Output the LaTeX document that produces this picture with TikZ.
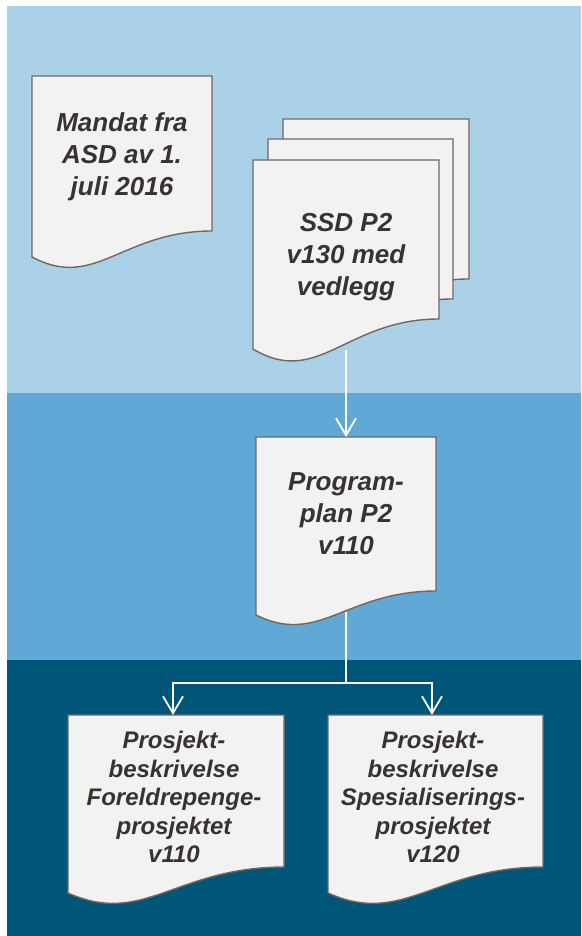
\documentclass[tikz,border=0pt]{standalone}
\usepackage{fontspec}
\setmainfont{Liberation Sans}
\usepackage{xcolor}
\definecolor{Band1}{RGB}{171,209,232}
\definecolor{Band2}{RGB}{96,169,215}
\definecolor{Band3}{RGB}{0,86,121}
\definecolor{DocFill}{RGB}{242,242,242}
\definecolor{DocEdge}{RGB}{112,103,98}
\definecolor{DocInk}{RGB}{56,50,48}
\usepackage{tikz}
\usetikzlibrary{calc}
\usetikzlibrary{arrows.meta}
\tikzstyle{DocBox}=[rectangle,draw=none,inner sep=0pt,outer sep=0pt]
\tikzstyle{DocLine}=[fill=DocFill,draw=DocEdge,line width=1.4pt]
\tikzstyle{DocText}=[anchor=north,align=center,inner sep=0pt,text=DocInk,
font=\bfseries\itshape\fontsize{26}{32}\selectfont]
\tikzstyle{DocTextS}=[DocText,font=\bfseries\itshape\fontsize{24}{28.5}\selectfont]
\tikzstyle{Flow}=[draw=white,line width=1.8pt,
-{Straight Barb[length=17pt,width=20pt]}]
% document sheet: name, top left corner, width, height, drop of the wave
\newcommand{\DocShape}[5]{%
  \node[DocBox,minimum width=#3,minimum height=#4,anchor=north west](#1)at(#2){};
  \draw[DocLine](#1.north west)--(#1.north east)--(#1.south east)
    .. controls (#1.south) and ($(#1.south west)+(0.35*#3,2.3*#5)$)
    .. ($(#1.south west)+(0,#5)$)--cycle;
}

\begin{document}
\begin{tikzpicture}[x=1pt,y=-1pt]
        \useasboundingbox(0,0)rectangle(581,936);
        \fill[Band1](7,6)rectangle(581,393);
        \fill[Band2](7,393)rectangle(581,660);
        \fill[Band3](7,660)rectangle(581,936);
        \DocShape{mandat}{32,76}{180}{155}{26}
        \DocShape{ssdC}{283,119}{186}{160}{30}
        \DocShape{ssdB}{268,139}{185}{160}{30}
        \DocShape{ssd}{253,160}{186}{159}{30}
        \DocShape{plan}{256,437}{180}{154}{24}
        \DocShape{fp}{68,715}{216}{152}{26}
        \DocShape{sp}{328,715}{215}{152}{26}
        \node[DocText](mandatT)at(122,112){Mandat fra\\ASD av 1.\\juli 2016};
        \node[DocText](ssdT)at(346,213){SSD P2\\v130 med\\vedlegg};
        \node[DocText](planT)at(346,472){Program-\\plan P2\\v110};
        \node[DocTextS](fpT)at(174,731){Prosjekt-\\beskrivelse\\Foreldrepenge-\\prosjektet\\v110};
        \node[DocTextS](spT)at(433,731){Prosjekt-\\beskrivelse\\Spesialiserings-\\prosjektet\\v120};
        \coordinate(split)at(346,683);
        \draw[Flow]([yshift=-31pt]ssd.south)--(plan.north);
        \draw[Flow]([yshift=-21pt]plan.south)--(split)-|([xshift=-3pt]fp.north);
        \draw[Flow](split)-|([xshift=-3.5pt]sp.north);
    \end{tikzpicture}
\end{document}
